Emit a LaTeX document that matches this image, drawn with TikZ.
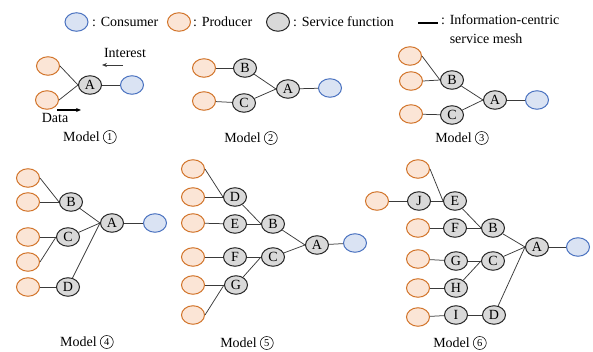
\documentclass[tikz,border=0pt]{standalone}
\usepackage{fontspec}
\setmainfont{Liberation Serif}
\usetikzlibrary{shapes.geometric,arrows.meta}
\definecolor{prodfill}{HTML}{FBE5D6}
\definecolor{proddraw}{HTML}{D2742A}
\definecolor{consfill}{HTML}{DAE3F3}
\definecolor{consdraw}{HTML}{4A72C0}
\definecolor{sffill}{HTML}{D9D9D9}
\definecolor{sfdraw}{HTML}{262626}
\definecolor{meshline}{HTML}{3A3A3A}
\tikzset{
  base/.style={ellipse,minimum width=23pt,minimum height=18.5pt,inner sep=0pt,line width=1pt},
  prod/.style={base,fill=prodfill,draw=proddraw},
  cons/.style={base,fill=consfill,draw=consdraw},
  sf/.style={base,fill=sffill,draw=sfdraw,font=\fontsize{14}{14}\selectfont},
  mesh/.style={draw=meshline,line width=0.75pt},
  lbl/.style={inner sep=0pt,font=\fontsize{14}{19}\selectfont},
  circnum/.style={circle,draw=black,line width=0.55pt,inner sep=0pt,minimum size=13pt,
    font=\fontsize{10.5}{10.5}\selectfont,anchor=west},
}
\begin{document}
\begin{tikzpicture}[x=1pt,y=-1pt]
\useasboundingbox (0,0) rectangle (593,352);

% ---- legend ----
\node[cons] (lc) at (76.5,22) {};
\node[lbl,anchor=west] (lct) at (92,22) {: Consumer};
\node[prod] (lp) at (179,22) {};
\node[lbl,anchor=west] (lpt) at (193,22) {: Producer};
\node[sf] (ls) at (278,22) {};
\node[lbl,anchor=west] (lst) at (293,22) {: Service function};
\coordinate (lm1) at (418,23);
\coordinate (lm2) at (438,23);
\draw[line width=1.2pt,black] (lm1) -- (lm2);
\node[lbl,anchor=north west,align=left] (lmt) at (441,14) {: Information-centric\\\hphantom{: }service mesh};

% ---- model 1 ----
\node[prod] (a1) at (48,66) {};
\node[prod] (a2) at (47,100) {};
\node[sf]   (aA) at (90,85) {A};
\node[cons] (aU) at (132,85) {};
\draw[mesh] (a1.east) -- (aA.west);
\draw[mesh] (a2.east) -- (aA.west);
\draw[mesh] (aA) -- (aU);
\node[lbl] (aint) at (125,53) {Interest};
\coordinate (ai1) at (123,65);
\coordinate (ai2) at (102,65);
\draw[-{Stealth[length=5pt,width=4pt]},line width=0.7pt,meshline] (ai1) -- (ai2);
\node[lbl] (adat) at (55,118) {Data};
\coordinate (ad1) at (57,110);
\coordinate (ad2) at (81,110);
\draw[-{Stealth[length=5pt,width=4pt]},line width=1.1pt,black] (ad1) -- (ad2);
\node[lbl,anchor=east] (am) at (100,137) {Model};
\node[circnum] (amn) at ([xshift=3pt]am.east) {1};

% ---- model 2 ----
\node[prod] (b1) at (204,68) {};
\node[prod] (b2) at (204,101) {};
\node[sf]   (bB) at (245,68) {B};
\node[sf]   (bC) at (244,103) {C};
\node[sf]   (bA) at (288,89) {A};
\node[cons] (bU) at (330,88) {};
\draw[mesh] (b1) -- (bB);
\draw[mesh] (b2) -- (bC);
\draw[mesh] (bB) -- (bA.west);
\draw[mesh] (bC) -- (bA.west);
\draw[mesh] (bA) -- (bU);
\node[lbl,anchor=east] (bm) at (261,138) {Model};
\node[circnum] (bmn) at ([xshift=3pt]bm.east) {2};

% ---- model 3 ----
\node[prod] (c1) at (410,56) {};
\node[prod] (c2) at (411,81) {};
\node[prod] (c3) at (411,114) {};
\node[sf]   (cB) at (452,80) {B};
\node[sf]   (cC) at (452,115) {C};
\node[sf]   (cA) at (495,100) {A};
\node[cons] (cU) at (537,100) {};
\draw[mesh] (c1.east) -- (cB.west);
\draw[mesh] (c2.east) -- (cB.west);
\draw[mesh] (c3) -- (cC);
\draw[mesh] (cB) -- (cA.west);
\draw[mesh] (cC) -- (cA.west);
\draw[mesh] (cA) -- (cU);
\node[lbl,anchor=east] (cm) at (472,138) {Model};
\node[circnum] (cmn) at ([xshift=3pt]cm.east) {3};

% ---- model 4 ----
\node[prod] (d1) at (28,178) {};
\node[prod] (d2) at (28,202) {};
\node[prod] (d3) at (28,237) {};
\node[prod] (d4) at (28,262) {};
\node[prod] (d5) at (28,287) {};
\node[sf]   (dB) at (71,202) {B};
\node[sf]   (dC) at (68,237) {C};
\node[sf]   (dD) at (68,287) {D};
\node[sf]   (dA) at (112,223) {A};
\node[cons] (dU) at (155,223) {};
\draw[mesh] (d1.east) -- (dB.west);
\draw[mesh] (d2.east) -- (dB.west);
\draw[mesh] (d3.east) -- (dC.west);
\draw[mesh] (d4.east) -- (dC.west);
\draw[mesh] (d5) -- (dD);
\draw[mesh] (dB) -- (dA.west);
\draw[mesh] (dC) -- (dA.west);
\draw[mesh] (dD) -- (dA.west);
\draw[mesh] (dA) -- (dU);
\node[lbl,anchor=east] (dm) at (97,342) {Model};
\node[circnum] (dmn) at ([xshift=3pt]dm.east) {4};

% ---- model 5 ----
\node[prod] (e1) at (193,169) {};
\node[prod] (e2) at (193,197) {};
\node[prod] (e3) at (193,223) {};
\node[prod] (e4) at (193,257) {};
\node[prod] (e5) at (193,285) {};
\node[prod] (e6) at (193,315) {};
\node[sf]   (eD) at (235,197) {D};
\node[sf]   (eE) at (235,224) {E};
\node[sf]   (eF) at (235,257) {F};
\node[sf]   (eG) at (236,285) {G};
\node[sf]   (eB) at (273,224) {B};
\node[sf]   (eC) at (273,257) {C};
\node[sf]   (eA) at (317,245) {A};
\node[cons] (eU) at (355,243) {};
\draw[mesh] (e1.east) -- (eD.west);
\draw[mesh] (e2.east) -- (eD.west);
\draw[mesh] (e3) -- (eE);
\draw[mesh] (e4) -- (eF);
\draw[mesh] (e5.east) -- (eG.west);
\draw[mesh] (e6.east) -- (eG.west);
\draw[mesh] (eD) -- (eB.west);
\draw[mesh] (eE) -- (eB.west);
\draw[mesh] (eF) -- (eC.west);
\draw[mesh] (eG) -- (eC.west);
\draw[mesh] (eB) -- (eA.west);
\draw[mesh] (eC) -- (eA.west);
\draw[mesh] (eA) -- (eU);
\node[lbl,anchor=east] (em) at (257,343) {Model};
\node[circnum] (emn) at ([xshift=3pt]em.east) {5};

% ---- model 6 ----
\node[prod] (f1) at (418,169) {};
\node[prod] (f0) at (377,201) {};
\node[prod] (f2) at (418,228) {};
\node[prod] (f3) at (418,259) {};
\node[prod] (f4) at (418,288) {};
\node[prod] (f5) at (418,317) {};
\node[sf]   (fJ) at (419,201) {J};
\node[sf]   (fE) at (455,201) {E};
\node[sf]   (fF) at (455,228) {F};
\node[sf]   (fG) at (456,261) {G};
\node[sf]   (fH) at (456,288) {H};
\node[sf]   (fI) at (456,315) {I};
\node[sf]   (fB) at (493,228) {B};
\node[sf]   (fC) at (493,261) {C};
\node[sf]   (fD) at (494,315) {D};
\node[sf]   (fA) at (537,247) {A};
\node[cons] (fU) at (578,247) {};
\draw[mesh] (f1.east) -- (fE.west);
\draw[mesh] (f0) -- (fJ);
\draw[mesh] (fJ) -- (fE);
\draw[mesh] (f2) -- (fF);
\draw[mesh] (f3) -- (fG);
\draw[mesh] (f4) -- (fH);
\draw[mesh] (f5) -- (fI);
\draw[mesh] (fE) -- (fB.west);
\draw[mesh] (fF) -- (fB.west);
\draw[mesh] (fG) -- (fC.west);
\draw[mesh] (fH) -- (fC.west);
\draw[mesh] (fI) -- (fD);
\draw[mesh] (fB) -- (fA.west);
\draw[mesh] (fC) -- (fA.west);
\draw[mesh] (fD) -- (fA.west);
\draw[mesh] (fA) -- (fU);
\node[lbl,anchor=east] (fm) at (470,343) {Model};
\node[circnum] (fmn) at ([xshift=3pt]fm.east) {6};
\end{tikzpicture}
\end{document}
